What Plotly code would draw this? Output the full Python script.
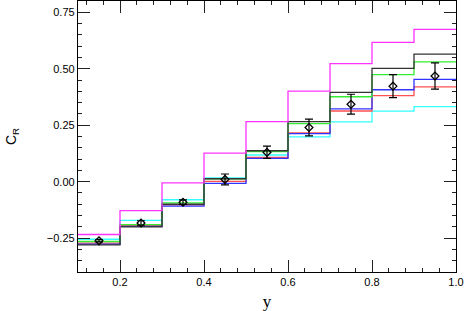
import plotly.graph_objects as go

edges = [0.1, 0.2, 0.3, 0.4, 0.5, 0.6, 0.7, 0.8, 0.9, 1.0]
centers = [0.15, 0.25, 0.35, 0.45, 0.55, 0.65, 0.75, 0.85, 0.95]

magenta = [-0.234, -0.128, -0.005, 0.126, 0.266, 0.401, 0.523, 0.617, 0.674]
black = [-0.280, -0.200, -0.100, 0.013, 0.137, 0.266, 0.395, 0.502, 0.565]
green = [-0.265, -0.190, -0.094, 0.012, 0.133, 0.257, 0.376, 0.474, 0.530]
blue = [-0.277, -0.198, -0.108, -0.008, 0.103, 0.213, 0.322, 0.407, 0.453]
red = [-0.272, -0.195, -0.103, 0.001, 0.108, 0.216, 0.313, 0.381, 0.420]
cyan = [-0.255, -0.171, -0.080, 0.017, 0.118, 0.198, 0.265, 0.312, 0.332]
data = [-0.262, -0.183, -0.091, 0.010, 0.130, 0.240, 0.343, 0.423, 0.468]
err = [0.005, 0.010, 0.010, 0.024, 0.027, 0.037, 0.044, 0.051, 0.058]

series = [
    (cyan, "#33ffff"),
    (red, "#ff5050"),
    (blue, "#3333ff"),
    (green, "#33ee33"),
    (black, "#333333"),
    (magenta, "#ff33ff"),
]

fig = go.Figure()
for vals, col in series:
    fig.add_trace(go.Scatter(
        x=edges, y=vals + [vals[-1]], mode="lines", line_shape="hv",
        line=dict(color=col, width=1.3), showlegend=False, hoverinfo="skip"))

fig.add_trace(go.Scatter(
    x=centers, y=data, mode="markers",
    marker=dict(symbol="diamond-open", size=6, color="black", line=dict(width=1.3, color="black")),
    error_y=dict(type="data", array=err, color="black", thickness=1.2, width=4),
    showlegend=False))

axis_common = dict(
    showline=True, linecolor="black", linewidth=1.3, mirror="ticks",
    ticks="inside", ticklen=12, tickwidth=1.2, tickcolor="#222222",
    showgrid=False, zeroline=False, automargin=False,
    tickfont=dict(family="Liberation Sans, Arial, sans-serif", size=11, color="black"),
)

fig.update_xaxes(
    range=[0.1, 1.0], dtick=0.2, tick0=0.2, tickformat=".1f",
    minor=dict(ticks="inside", ticklen=4, dtick=0.04, tick0=0.2, tickcolor="#222222", tickwidth=1.1, showgrid=False),
    title=dict(text="y", font=dict(family="Liberation Serif, Times New Roman, serif", size=17, color="black"), standoff=10),
    **axis_common)
fig.update_yaxes(
    range=[-0.4, 0.8], dtick=0.25, tick0=0, tickformat=".2f",
    minor=dict(ticks="inside", ticklen=4, dtick=0.05, tick0=0, tickcolor="#222222", tickwidth=1.1, showgrid=False),
    title=dict(text="C<sub>R</sub>", font=dict(family="Liberation Sans, Arial, sans-serif", size=14, color="black"), standoff=26),
    **axis_common)

fig.update_layout(
    width=465, height=311,
    margin=dict(l=78, r=9, t=1, b=39),
    plot_bgcolor="white", paper_bgcolor="white",
)

fig.write_html("out.html", config={"displayModeBar": False},
               post_script="document.body.style.margin='0';")
